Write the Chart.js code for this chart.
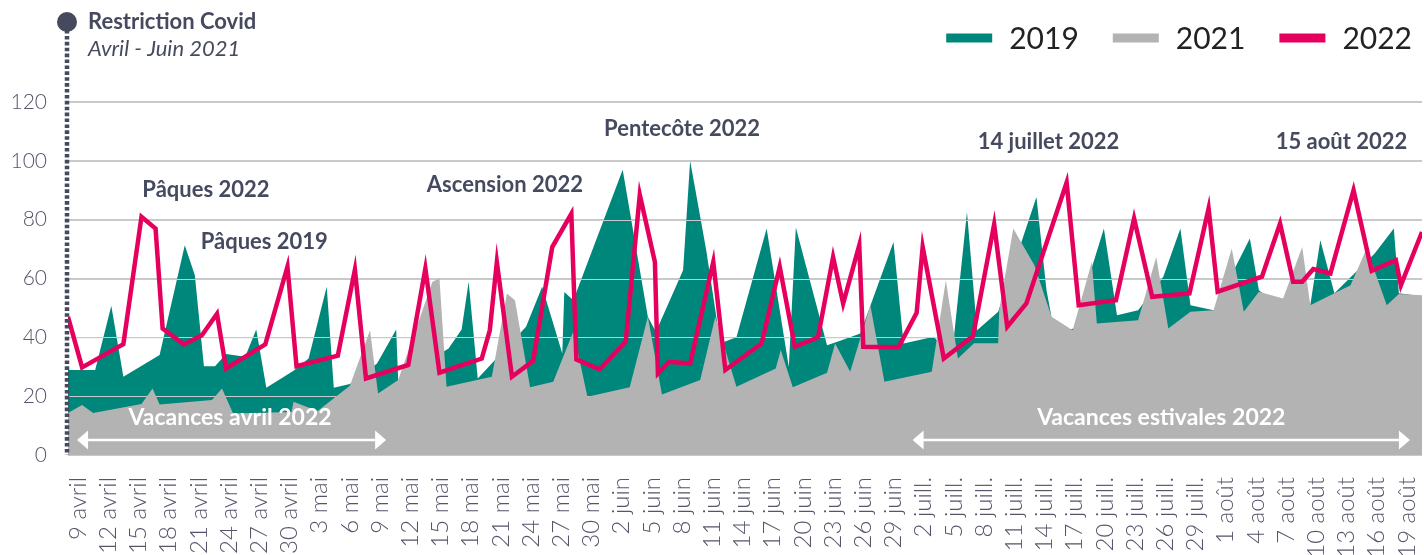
<!DOCTYPE html>
<html><head><meta charset="utf-8">
<script src="https://cdn.jsdelivr.net/npm/chart.js@4.4.1/dist/chart.umd.min.js"></script>
<style>html,body{margin:0;padding:0;background:#fff;}canvas{display:block;}</style>
</head><body>
<canvas id="c" width="1424" height="555"></canvas>
<script>
// x values = days since 8 avril 2022
const tickDays = [1,4,7,10,13,16,19,22,25,28,31,34,37,40,43,46,49,52,55,58,61,64,67,70,73,76,79,82,85,88,91,94,97,100,103,106,109,112,115,118,121,124,127,130,133];
const tickLabels = ['9 avril','12 avril','15 avril','18 avril','21 avril','24 avril','27 avril','30 avril',
  '3 mai','6 mai','9 mai','12 mai','15 mai','18 mai','21 mai','24 mai','27 mai','30 mai',
  '2 juin','5 juin','8 juin','11 juin','14 juin','17 juin','20 juin','23 juin','26 juin','29 juin',
  '2 juill.','5 juill.','8 juill.','11 juill.','14 juill.','17 juill.','20 juill.','23 juill.','26 juill.','29 juill.',
  '1 août','4 août','7 août','10 août','13 août','16 août','19 août'];

const days2022 = [0,1.4,5.5,7.3,8.7,9.4,11.5,13.3,14.8,15.7,
  19.6,21.8,22.7,26.8,28.5,29.6,33.8,35.5,36.9,41.1,
  41.9,42.6,44.1,46.2,48.1,50.0,50.5,52.8,55.4,56.8,
  58.3,58.6,59.7,61.8,64.1,65.3,68.9,70.7,72.2,74.5,
  76.0,77.0,78.6,79.0,82.5,84.3,84.9,87.0,89.9,92.0,
  93.3,95.2,99.2,100.4,104.1,105.9,107.7,111.4,113.3,114.2,
  118.6,120.4,121.7,122.6,123.7,125.4,127.7,129.5,131.9,132.4,134.5];
const values2022 = [47,29.8,37.7,81,77,43,37.6,40.7,48,29.4,
  37.6,64,30.2,33.8,63,26,30.6,63.4,28,32.8,
  42.4,65.6,26.6,32,70.7,82,32.5,29.1,38.5,88.5,
  65.6,27.7,31.7,31.1,65.6,28.9,37.9,64,36.8,40,
  67.3,51.5,71.3,36.8,36.6,48.3,70.7,32.8,40.4,78.4,
  43.6,51.5,92.6,50.9,52.6,80.4,53.8,54.9,83.8,55.5,
  60.6,78.7,58.9,58.9,63.2,61.7,90,62.6,66.2,57.7,75.8];

const days2019 = [0,2.7,4.3,5.5,9.1,11.6,12.6,13.5,14.6,15.7,
  17.6,18.7,19.7,22.4,23.9,25.7,26.4,28,30.7,32.6,
  32.8,37.8,39.1,39.8,40.7,45.5,47.1,49.1,49.3,50.2,
  55.1,57.6,58.4,61.1,61.8,63.4,64.8,66.4,69.4,71.6,
  72.3,75.4,76.7,78.7,82.0,83.0,86.0,87.8,89.3,90.3,
  92.4,96.2,97.2,98.0,99.9,100.5,102.9,104.2,106.3,108.8,
  110.5,111.5,113.8,117.4,118.3,120.5,123.4,124.4,125.8,129.8,131.7,132.2,134.5];
const values2019 = [28.9,28.9,50.7,26.6,34,71.3,61.1,30.2,30.2,34.3,
  33.4,42.7,22.9,28.6,32.8,57.2,22.9,24.1,31.1,42.7,
  25.5,36.2,42.7,58.9,26,43.6,57.2,34.5,55.4,52.6,
  97,47,41.9,62.8,100,69.6,38,40,77,30,
  77.3,37.3,38.8,41.3,72.4,37.9,40.2,33.4,82.6,42.4,
  48.7,87.7,56,41.3,43,50.4,77,47.5,49.2,60.6,
  77,50.9,49.2,73.6,56,50,50.9,73,55,68.5,77,55,54];

const days2021 = [0,1.4,2.5,7.3,8.4,9.1,14.3,15.3,16.4,22.2,
  22.4,24.8,28,30,30.8,32.8,36.2,36.9,37.6,42.1,
  43.6,44.4,45.9,48.2,50.2,51.6,55.8,57.6,59,62.8,
  64.3,66.4,70.3,70.8,72,75.4,76.2,77.7,79.7,81.1,
  85.8,87.2,88.4,90,92.4,92.5,93.9,96,97.7,99.8,
  101.7,102.2,106.3,108.1,109.3,111.5,113.8,115.6,116.8,118.3,
  120.7,122.6,123.4,127.4,129,131,132.2,134.5];
const values2021 = [14.3,17,14.3,17.3,22.6,17.2,18.7,22.6,14.1,14.6,
  18.1,15,23.5,42.4,20.9,25.5,58.9,60,23.2,26.6,
  54.9,52.6,23,24.9,42,19.8,23,47,20.6,25.5,
  47,23.2,29.4,35.7,23,28,37.9,28.3,50.9,24.9,
  28.3,59.4,32.8,38,38,49.2,77,64.5,47,42.4,
  65.6,44.7,45.8,67.3,43,48.7,49.2,70.2,48.7,55.5,
  53.2,70.7,50.9,57.7,70.2,50.9,54.7,54.3];

const annotations = [
  {text:'Pâques 2022', day:13.7, value:90},
  {text:'Pâques 2019', day:19.5, value:72.3},
  {text:'Ascension 2022', day:43.4, value:91.7},
  {text:'Pentecôte 2022', day:61, value:111},
  {text:'14 juillet 2022', day:97.4, value:106.3},
  {text:'15 août 2022', day:126.5, value:106.3}
];
const vacations = [
  {text:'Vacances avril 2022', from:0.9, to:31.6, textDay:16.1},
  {text:'Vacances estivales 2022', from:83.9, to:133.3, textDay:108.6}
];

const TEAL = '#00877B', GRAY = '#B3B3B3', PINK = '#E6005E', INK = '#464a5e', TICK = '#55566a', GRID = '#c9c9c9';
const pts = (d, v) => d.map((x, i) => ({x, y: v[i]}));

// gridlines show through the 2019 area (drawn right after it, below 2021)
const gridOverTeal = {
  id: 'gridOverTeal',
  afterDatasetDraw(chart, args) {
    if (args.meta.label !== '2019') return;
    const {ctx, chartArea, scales: {y}} = chart;
    ctx.save();
    ctx.strokeStyle = GRID; ctx.lineWidth = 1.2;
    for (const t of y.ticks) {
      const py = Math.round(y.getPixelForValue(t.value)) + 0.5;
      ctx.beginPath(); ctx.moveTo(chartArea.left, py); ctx.lineTo(chartArea.right, py); ctx.stroke();
    }
    ctx.restore();
  }
};

const overlay = {
  id: 'overlay',
  afterDatasetsDraw(chart) {
    const {ctx, chartArea, scales} = chart;
    const xs = scales.x, ys = scales.y;
    ctx.save();
    // covid restriction marker
    const mx = chartArea.left - 1;
    ctx.strokeStyle = INK; ctx.lineWidth = 4.5; ctx.setLineDash([3.6, 2.3]);
    ctx.beginPath(); ctx.moveTo(mx, 30); ctx.lineTo(mx, chartArea.bottom); ctx.stroke();
    ctx.setLineDash([]);
    ctx.fillStyle = INK; ctx.beginPath(); ctx.arc(mx, 22, 10, 0, Math.PI * 2); ctx.fill();
    ctx.textAlign = 'left'; ctx.textBaseline = 'middle';
    ctx.font = 'bold 22px Lato'; ctx.fillText('Restriction Covid', 88, 22);
    ctx.font = 'italic 22px Lato'; ctx.fillText('Avril - Juin 2021', 88, 49);
    // event labels
    ctx.textAlign = 'center';
    ctx.font = 'bold 22px Lato';
    for (const a of annotations) {
      ctx.fillText(a.text, xs.getPixelForValue(a.day), ys.getPixelForValue(a.value));
    }
    // holiday arrows
    ctx.fillStyle = '#ffffff'; ctx.strokeStyle = '#ffffff';
    for (const v of vacations) {
      const x0 = xs.getPixelForValue(v.from), x1 = xs.getPixelForValue(v.to);
      const ya = ys.getPixelForValue(5.1);
      ctx.lineWidth = 2.6;
      ctx.beginPath(); ctx.moveTo(x0 + 8, ya); ctx.lineTo(x1 - 8, ya); ctx.stroke();
      ctx.beginPath(); ctx.moveTo(x0, ya); ctx.lineTo(x0 + 11, ya - 9.5); ctx.lineTo(x0 + 11, ya + 9.5); ctx.closePath(); ctx.fill();
      ctx.beginPath(); ctx.moveTo(x1, ya); ctx.lineTo(x1 - 11, ya - 9.5); ctx.lineTo(x1 - 11, ya + 9.5); ctx.closePath(); ctx.fill();
      ctx.font = 'bold 23px Lato';
      ctx.fillText(v.text, xs.getPixelForValue(v.textDay), ys.getPixelForValue(12.6));
    }
    // legend
    const items = [chart.data.datasets[2], chart.data.datasets[1], chart.data.datasets[0]];
    ctx.font = '30px Lato';
    ctx.textAlign = 'left';
    let right = 1412;
    const layout = [];
    for (let i = items.length - 1; i >= 0; i--) {
      const w = ctx.measureText(items[i].label).width;
      const tx = right - w;
      const sx = tx - 17 - 46;
      layout[i] = {sx, tx};
      right = sx - 34;
    }
    items.forEach((ds, i) => {
      ctx.fillStyle = ds.legendColor;
      ctx.fillRect(layout[i].sx, 33.5, 46, 9);
      ctx.fillStyle = '#222222';
      ctx.fillText(ds.label, layout[i].tx, 39);
    });
    ctx.restore();
  }
};

new Chart(document.getElementById('c'), {
  type: 'line',
  data: {
    datasets: [
      {label:'2022', data: pts(days2022, values2022), borderColor: PINK, legendColor: PINK, borderWidth: 4.5,
       fill: false, pointRadius: 0, tension: 0, borderJoinStyle: 'miter', order: 0},
      {label:'2021', data: pts(days2021, values2021), borderWidth: 0, backgroundColor: GRAY, legendColor: GRAY,
       fill: 'origin', pointRadius: 0, tension: 0, order: 1},
      {label:'2019', data: pts(days2019, values2019), borderWidth: 0, backgroundColor: TEAL, legendColor: TEAL,
       fill: 'origin', pointRadius: 0, tension: 0, order: 2}
    ]
  },
  options: {
    responsive: false,
    animation: false,
    devicePixelRatio: 1,
    layout: {padding: {top: 102, right: 2, left: 0, bottom: 0}},
    plugins: {legend: {display: false}, tooltip: {enabled: false}},
    scales: {
      x: {
        type: 'linear', min: 0, max: 134.5,
        grid: {display: false, drawTicks: false}, border: {display: false},
        afterBuildTicks: (s) => { s.ticks = tickDays.map(v => ({value: v})); },
        afterFit: (s) => { s.height = 100; s.paddingLeft = 0; s.paddingRight = 0; },
        ticks: {
          autoSkip: false, minRotation: 90, maxRotation: 90, padding: 22,
          color: TICK, font: {family: 'Lato', size: 24, weight: 300},
          callback: (v) => tickLabels[tickDays.indexOf(v)]
        }
      },
      y: {
        min: 0, max: 120,
        grid: {color: GRID, lineWidth: 1.2, drawTicks: false}, border: {display: false},
        afterFit: (s) => { s.width = 68; },
        ticks: {stepSize: 20, padding: 21, color: TICK, font: {family: 'Lato', size: 21, weight: 300}}
      }
    }
  },
  plugins: [gridOverTeal, overlay]
});
</script>
</body></html>
